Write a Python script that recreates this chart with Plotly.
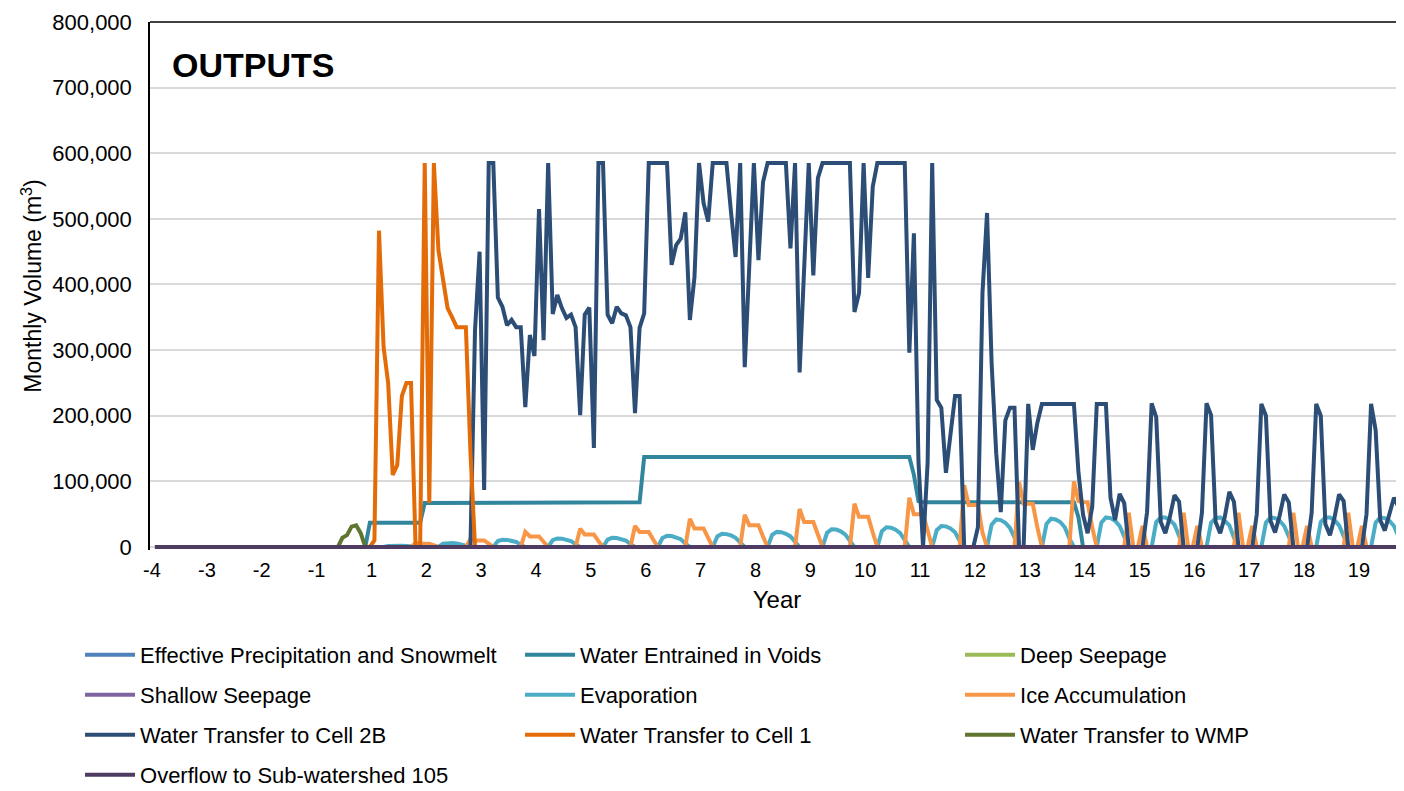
import plotly.graph_objects as go

# monthly values, one row of 12 months per year, thousands of m3
year_labels = ["-4", "-3", "-2", "-1", "1", "2", "3", "4", "5", "6", "7", "8",
               "9", "10", "11", "12", "13", "14", "15", "16", "17", "18", "19"]
N_MONTHS = 12 * len(year_labels)
Z = [0, 0, 0, 0, 0, 0, 0, 0, 0, 0, 0, 0]

effective_precip = [Z] * 23
deep_seepage = [Z] * 23
shallow_seepage = [Z] * 23
overflow_105 = [Z] * 23

entrained_voids = [
    Z, Z, Z,
    [0, 0, 0, 0, 0, 0, 0, 0, 0, 0, 0, 37],
    [37, 37, 37, 37, 37, 37, 37, 37, 37, 37, 37, 67],
    [67, 67, 67, 67, 67, 67, 67, 67, 67, 67, 67, 67],
    [68, 68, 68, 68, 68, 68, 68, 68, 68, 68, 68, 68],
    [68, 68, 68, 68, 68, 68, 68, 68, 68, 68, 68, 68],
    [68, 68, 68, 68, 68, 68, 68, 68, 68, 68, 68, 137],
    [137, 137, 137, 137, 137, 137, 137, 137, 137, 137, 137, 137],
    [137, 137, 137, 137, 137, 137, 137, 137, 137, 137, 137, 137],
    [137, 137, 137, 137, 137, 137, 137, 137, 137, 137, 137, 137],
    [137, 137, 137, 137, 137, 137, 137, 137, 137, 137, 137, 137],
    [137, 137, 137, 137, 137, 137, 137, 137, 137, 137, 110, 70],
    [68, 68, 68, 68, 68, 68, 68, 68, 68, 68, 68, 68],
    [68, 68, 68, 68, 68, 68, 68, 68, 68, 68, 68, 68],
    [68, 68, 68, 68, 68, 68, 68, 68, 68, 68, 45, 0],
    Z, Z, Z, Z, Z, Z,
]

evaporation = [
    Z, Z, Z, Z,
    [0, 0, 0, 1.6, 2, 2, 1.8, 1.4, 0.6, 0, 0, 0],
    [0, 0, 0, 5, 6, 6, 5.3, 4.2, 1.8, 0, 0, 0],
    [0, 0, 0, 9, 11, 10.8, 9.7, 7.7, 3.3, 0, 0, 0],
    [0, 0, 0, 10.5, 13, 12.7, 11.4, 9.1, 3.9, 0, 0, 0],
    [0, 0, 0, 11.2, 14, 13.7, 12.3, 9.8, 4.2, 0, 0, 0],
    [0, 0, 0, 13.6, 17, 16.7, 15, 11.9, 5.1, 0, 0, 0],
    [0, 0, 0, 16, 20, 19.6, 17.6, 14, 6, 0, 0, 0],
    [0, 0, 0, 18.4, 23, 22.5, 20.2, 16.1, 6.9, 0, 0, 0],
    [0, 0, 0, 21.6, 27, 26.5, 23.8, 18.9, 8.1, 0, 0, 0],
    [0, 0, 0, 24, 30, 29.4, 26.4, 21, 9, 0, 0, 0],
    [0, 0, 0, 25.6, 32, 31.4, 28.2, 22.4, 9.6, 0, 0, 0],
    [0, 0, 0, 34, 42, 41, 37, 29, 13, 0, 0, 0],
    [0, 0, 0, 35, 43, 42, 38, 30, 13, 0, 0, 0],
    [0, 0, 0, 37, 45, 44, 40, 32, 14, 0, 0, 0],
    [0, 0, 0, 38, 45, 45, 41, 34, 15, 0, 0, 0],
    [0, 0, 0, 37, 44, 45, 40, 33, 14, 0, 0, 0],
    [0, 0, 0, 37, 45, 44, 40, 32, 14, 0, 0, 0],
    [0, 0, 0, 38, 45, 45, 41, 33, 15, 0, 0, 0],
    [0, 0, 0, 37, 45, 44, 40, 32, 14, 0, 0, 0],
]

ice_accumulation = [
    Z, Z, Z, Z,
    [0, 0, 0, 0, 0, 0, 0, 0, 0, 6, 5, 5],
    [5, 2, 0, 0, 0, 0, 0, 0, 0, 12, 10, 10],
    [10, 5, 0, 0, 0, 0, 0, 0, 0, 23, 16, 16],
    [16, 8, 0, 0, 0, 0, 0, 0, 0, 28, 19, 19],
    [19, 9, 0, 0, 0, 0, 0, 0, 0, 32, 23, 23],
    [23, 11, 0, 0, 0, 0, 0, 0, 0, 43, 28, 28],
    [28, 14, 0, 0, 0, 0, 0, 0, 0, 49, 33, 33],
    [33, 16, 0, 0, 0, 0, 0, 0, 0, 58, 38, 38],
    [38, 19, 0, 0, 0, 0, 0, 0, 0, 66, 46, 46],
    [46, 22, 0, 0, 0, 0, 0, 0, 0, 75, 50, 50],
    [50, 25, 0, 0, 0, 0, 0, 0, 0, 94, 64, 64],
    [64, 22, 0, 0, 0, 0, 0, 0, 0, 99, 66, 66],
    [66, 30, 0, 0, 0, 0, 0, 0, 0, 100, 70, 68],
    [68, 30, 0, 0, 0, 0, 0, 0, 0, 52, 0, 0],
    [32, 0, 0, 0, 0, 0, 0, 0, 0, 52, 0, 0],
    [32, 0, 0, 0, 0, 0, 0, 0, 0, 52, 0, 0],
    [32, 0, 0, 0, 0, 0, 0, 0, 0, 52, 0, 0],
    [32, 0, 0, 0, 0, 0, 0, 0, 0, 52, 0, 0],
    [32, 0, 0, 0, 0, 0, 0, 0, 0, 52, 0, 0],
]

transfer_cell_2b = [
    Z, Z, Z, Z, Z,
    [0, 0, 0, 0, 0, 0, 0, 0, 0, 0, 330, 450],
    [87, 585, 585, 380, 366, 338, 346, 335, 335, 213, 323, 291],
    [515, 315, 585, 355, 384, 364, 349, 354, 335, 201, 354, 365],
    [151, 585, 585, 354, 341, 366, 356, 353, 335, 204, 334, 356],
    [585, 585, 585, 585, 585, 430, 460, 470, 510, 346, 411, 585],
    [524, 496, 585, 585, 585, 585, 510, 442, 585, 274, 430, 585],
    [437, 556, 585, 585, 585, 585, 585, 455, 585, 266, 425, 585],
    [414, 562, 585, 585, 585, 585, 585, 585, 585, 358, 387, 585],
    [410, 549, 585, 585, 585, 585, 585, 585, 585, 296, 478, 130],
    [0, 128, 585, 224, 212, 113, 170, 230, 230, 0, 0, 0],
    [30, 387, 509, 280, 143, 53, 193, 212, 212, 0, 0, 218],
    [148, 189, 218, 218, 218, 218, 218, 218, 218, 218, 113, 49],
    [21, 61, 218, 218, 218, 75, 41, 81, 67, 0, 0, 0],
    [0, 53, 219, 198, 38, 21, 46, 79, 69, 0, 0, 0],
    [0, 52, 219, 201, 38, 21, 46, 84, 69, 0, 0, 0],
    [0, 50, 218, 200, 40, 22, 48, 80, 68, 0, 0, 0],
    [0, 52, 218, 200, 35, 18, 45, 80, 70, 0, 0, 0],
    [0, 50, 218, 178, 41, 25, 49, 75, 61, 0, 0, 0],
]

transfer_cell_1 = [
    Z, Z, Z, Z,
    [10, 482, 305, 250, 110, 125, 230, 250, 250, 0, 0, 585],
    [67, 585, 452, 407, 364, 350, 335, 335, 335, 145, 0, 0],
    Z, Z, Z, Z, Z, Z, Z, Z, Z, Z, Z, Z, Z, Z, Z, Z, Z,
]

transfer_wmp = [
    Z, Z, Z,
    [0, 0, 0, 0, 0, 14, 18, 31, 33, 21, 0, 0],
    Z, Z, Z, Z, Z, Z, Z, Z, Z, Z, Z, Z, Z, Z, Z, Z, Z, Z, Z,
]

series = [
    ("Effective Precipitation and Snowmelt", effective_precip, "#4F81BD"),
    ("Water Entrained in Voids", entrained_voids, "#31859C"),
    ("Deep Seepage", deep_seepage, "#9BBB59"),
    ("Shallow Seepage", shallow_seepage, "#8064A2"),
    ("Evaporation", evaporation, "#4BACC6"),
    ("Ice Accumulation", ice_accumulation, "#F79646"),
    ("Water Transfer to Cell 2B", transfer_cell_2b, "#2C4D75"),
    ("Water Transfer to Cell 1", transfer_cell_1, "#E36C09"),
    ("Water Transfer to WMP", transfer_wmp, "#5F7530"),
    ("Overflow to Sub-watershed 105", overflow_105, "#4D3B62"),
]

months = list(range(N_MONTHS))
legend_ids = ["legend", "legend", "legend", "legend2", "legend2", "legend2",
              "legend3", "legend3", "legend3", "legend4"]

fig = go.Figure()
for (name, rows, color), lg in zip(series, legend_ids):
    vals = [v * 1000 for row in rows for v in row]
    fig.add_trace(go.Scatter(
        x=months, y=vals, mode="lines", name=name, legend=lg,
        line=dict(color=color, width=4),
        hovertemplate="%{y:,.0f}<extra>" + name + "</extra>",
    ))

FONT = "Liberation Sans, Arial, sans-serif"

# page body has an 8px margin, so the figure is sized/offset to put
# the plot area at x 150..1404, y 22..550 in the window; the figure is
# taller than the window so the legends never push the margins
def row_legend(y):
    return dict(
        orientation="h", x=-0.0558, xanchor="left", y=y, yanchor="middle",
        itemwidth=50, entrywidth=375, entrywidthmode="pixels",
        font=dict(family=FONT, size=22, color="black"),
        bgcolor="rgba(0,0,0,0)", borderwidth=0,
    )

fig.update_layout(
    width=1396, height=811,
    margin=dict(l=142, r=0, t=14, b=269),
    plot_bgcolor="white", paper_bgcolor="white",
    font=dict(family=FONT, size=22, color="black"),
    showlegend=True,
    legend=row_legend(-0.1989),
    legend2=row_legend(-0.2746),
    legend3=row_legend(-0.3504),
    legend4=row_legend(-0.4261),
    hovermode="closest",
)

fig.update_xaxes(
    range=[-1.09, 273.2],
    tickmode="array",
    tickvals=[12 * i - 0.65 for i in range(len(year_labels))],
    ticktext=year_labels,
    tickfont=dict(family=FONT, size=20, color="black"),
    ticklabelstandoff=6,
    showgrid=False, zeroline=False, showline=False,
    title=dict(text="Year", font=dict(family=FONT, size=24, color="black"), standoff=11),
)

fig.update_yaxes(
    range=[-4600, 800000],
    tick0=0, dtick=100000,
    tickformat=",",
    tickfont=dict(family=FONT, size=22, color="black"),
    ticklabelstandoff=12,
    showgrid=True, gridcolor="#D9D9D9", gridwidth=1.5,
    zeroline=False,
    showline=True, linecolor="black", linewidth=1.5,
    title=dict(text="Monthly Volume (m<sup>3</sup>)",
               font=dict(family=FONT, size=23, color="black"), standoff=4),
)

# top frame line
fig.add_shape(type="line", xref="paper", yref="paper", x0=0, x1=1, y0=1, y1=1,
              line=dict(color="black", width=1.5))

fig.add_annotation(
    xref="paper", yref="paper", x=0.016, y=0.9186,
    xanchor="left", yanchor="middle", showarrow=False,
    text="<b>OUTPUTS</b>", font=dict(family=FONT, size=34, color="black"),
)

fig.write_html("out.html")
